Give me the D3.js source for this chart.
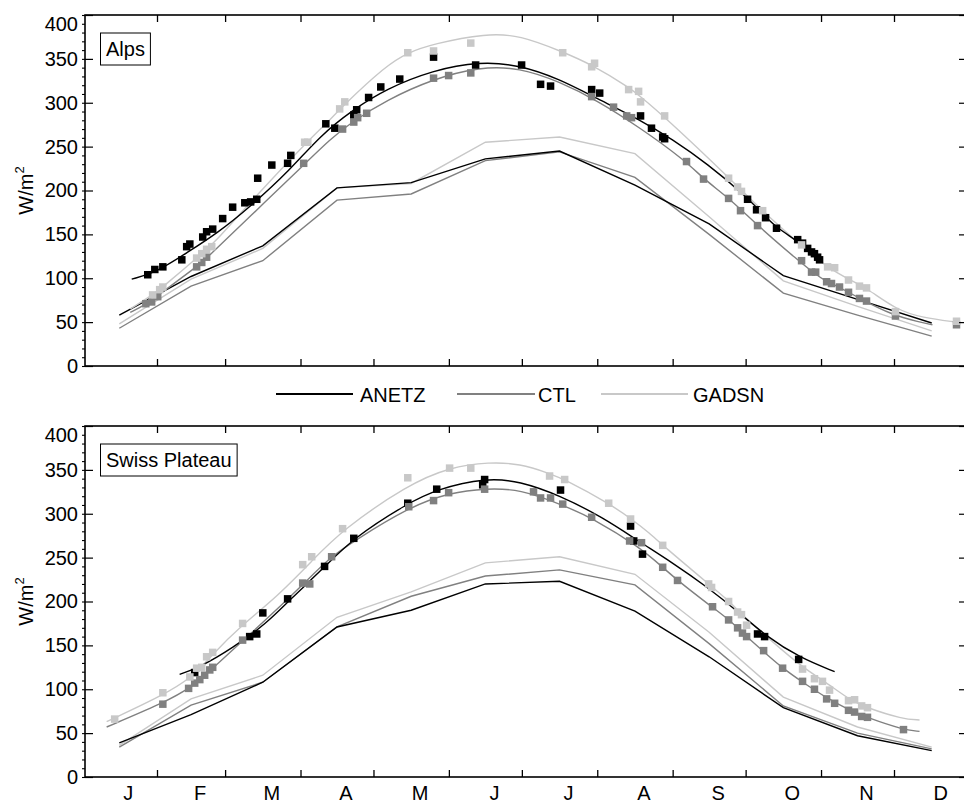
<!DOCTYPE html>
<html><head><meta charset="utf-8">
<script src="https://cdn.jsdelivr.net/npm/d3@7"></script>
<style>
html,body{margin:0;padding:0;background:#fff;}
svg{display:block;font-family:"Liberation Sans",Arial,Helvetica,sans-serif;}
</style></head><body>
<svg id="chart" width="964" height="808"></svg>
<script>
// ---------------- DATA ----------------
const months = ["J","F","M","A","M","J","J","A","S","O","N","D"];
const monthStartDays = [0,31,59,90,120,151,181,212,243,273,304,334];
const monthMidDays = [15.5,45,74.5,105,135.5,166,196.5,227.5,258,288.5,319,349.5];
const yTickValues = [0,50,100,150,200,250,300,350,400];
const seriesNames = ["ANETZ","CTL","GADSN"];
const panelTitles = ["Alps","Swiss Plateau"];

// Alps: fitted curves [day, W/m2]
const alpsFitANETZ = [[20.6,99],[30.9,107],[43.2,129],[55.6,151],[69.1,181],[85.6,223],[97.9,262],[111.5,292],[125.4,316],[144.3,337],[163.7,347],[180.1,343],[196.5,327],[211.7,305],[229.4,281],[243.0,258],[257.0,231],[273.4,193],[281.2,170],[285.7,158],[293.9,143],[299.3,131],[303.4,120]];
const alpsFitCTL = [[20.0,61],[26.4,70],[32.1,82],[47.3,113],[51.4,123],[69.1,170],[91.3,229],[102.0,258],[111.5,279],[125.4,303],[144.3,327],[163.7,341],[180.1,340],[196.5,324],[211.7,303],[229.4,272],[248.7,233],[255.7,213],[266.4,191],[277.9,160],[295.2,119],[300.5,107],[306.3,96],[311.6,90],[319.8,77],[333.4,58],[344.5,50],[349.8,47]];
const alpsFitGADSN = [[20.0,65],[29.2,81],[33.4,90],[49.8,129],[53.5,137],[72.4,196],[92.5,255],[102.0,280],[106.1,293],[125.4,343],[134.1,357],[144.3,367],[166.5,379],[180.1,377],[197.8,358],[210.1,343],[225.3,317],[229.4,308],[239.7,284],[266.4,214],[280.0,176],[296.4,136],[306.3,113],[315.7,98],[322.7,89],[335.0,64],[345.7,55],[359.7,50]];
// Alps: monthly means (mid-month)
const alpsMonANETZ = [58,102,137,203,209,236,245,206,162,103,76,49];
const alpsMonCTL   = [43,91,120,189,196,234,244,215,150,83,58,34];
const alpsMonGADSN = [48,99,134,203,208,255,261,242,170,97,68,40];
// Alps: individual values [day, W/m2]
const alpsPtsANETZ = [[27.2,104],[30.1,110],[33.4,113],[41.2,121],[43.2,136],[44.5,139],[49.8,147],[51.4,153],[53.9,156],[58.0,168],[62.1,181],[67.1,186],[69.5,187],[72.0,190],[72.4,214],[78.2,229],[84.7,231],[86.0,240],[100.4,276],[104.1,271],[111.9,286],[113.1,292],[118.0,306],[123.0,318],[130.8,327],[144.7,352],[162.0,343],[180.9,343],[188.7,321],[192.8,319],[209.7,315],[213.0,311],[229.8,285],[234.3,271],[238.9,261],[239.7,259],[273.8,190],[277.5,178],[281.2,169],[285.7,157],[294.4,144],[296.4,140],[298.5,134],[300.1,130],[301.3,128],[302.6,124],[303.4,121]];
const alpsPtsCTL = [[26.4,71],[28.8,73],[31.3,79],[47.3,113],[49.4,118],[51.4,124],[91.3,231],[107.3,270],[111.9,278],[113.5,283],[117.2,288],[144.7,328],[150.9,331],[160.0,334],[209.7,307],[218.7,295],[224.1,285],[226.1,283],[248.7,233],[255.7,213],[266.0,191],[270.9,177],[277.9,160],[296.0,120],[300.1,107],[301.8,107],[306.3,96],[308.3,94],[311.6,90],[315.3,84],[319.8,77],[322.7,74],[334.6,57],[359.7,47]];
const alpsPtsGADSN = [[29.2,81],[32.1,87],[33.4,90],[47.3,123],[49.4,128],[51.4,133],[53.5,136],[91.7,255],[93.0,255],[106.1,293],[108.2,301],[134.1,357],[144.7,359],[160.0,368],[197.8,357],[209.7,341],[210.9,345],[224.9,315],[229.0,313],[229.8,301],[239.7,285],[266.0,214],[269.7,204],[271.3,199],[280.0,177],[296.0,138],[306.7,113],[309.6,112],[315.3,98],[319.8,91],[322.7,89],[334.6,62],[359.7,51]];

// Swiss Plateau: fitted curves
const swissFitANETZ = [[40.3,117],[48.6,125],[62.1,147],[76.1,175],[85.6,202],[99.9,239],[111.5,272],[134.1,312],[146.0,328],[166.5,341],[180.1,337],[196.5,321],[214.2,296],[229.4,268],[243.0,244],[257.0,217],[270.5,187],[281.6,160],[295.2,136],[309.6,120]];
const swissFitCTL = [[10.3,57],[33.4,84],[45.7,103],[53.9,124],[66.2,155],[78.0,185],[90.9,219],[102.0,250],[111.5,268],[134.9,308],[151.3,324],[166.5,329],[180.1,328],[197.8,310],[210.1,295],[229.4,262],[238.9,239],[245.0,224],[259.0,194],[266.4,179],[273.4,160],[280.8,142],[288.2,124],[296.4,108],[306.3,90],[315.7,76],[322.7,68],[337.5,54],[344.5,52]];
const swissFitGADSN = [[10.3,63],[33.4,93],[45.7,114],[53.9,140],[65.0,171],[80.2,205],[95.0,247],[106.9,281],[134.1,333],[151.3,353],[167.8,359],[180.1,357],[192.4,346],[198.6,339],[216.7,312],[226.1,294],[233.5,278],[238.9,264],[258.2,219],[266.4,200],[270.5,188],[273.4,180],[296.4,124],[304.6,111],[315.7,88],[322.7,79],[337.5,66],[344.5,65]];
// Swiss Plateau: monthly means
const swissMonANETZ = [39,71,108,171,190,220,223,189,137,79,47,30];
const swissMonCTL   = [34,82,108,171,206,229,236,219,152,81,50,32];
const swissMonGADSN = [36,89,116,182,211,244,251,231,165,91,57,34];
// Swiss Plateau: individual values
const swissPtsANETZ = [[46.5,119],[69.1,160],[72.0,163],[74.5,187],[84.7,203],[99.9,240],[111.9,272],[134.1,312],[146.0,328],[164.9,333],[165.7,339],[196.9,327],[225.7,286],[227.0,269],[230.6,254],[277.9,163],[280.8,160],[294.8,134]];
const swissPtsCTL = [[33.4,83],[44.0,101],[46.5,107],[48.6,111],[50.6,116],[52.7,122],[53.9,125],[66.2,156],[90.9,221],[93.8,220],[102.8,251],[134.5,308],[144.7,315],[150.9,324],[165.7,328],[185.8,325],[188.7,318],[192.8,318],[197.8,311],[209.7,296],[225.3,269],[230.2,267],[238.9,239],[245.0,224],[259.4,194],[266.0,179],[269.7,170],[271.7,164],[273.4,160],[280.4,144],[288.2,124],[296.4,109],[301.3,100],[306.3,89],[309.6,84],[315.3,76],[317.8,74],[320.7,69],[323.1,68],[337.9,54]];
const swissPtsGADSN = [[13.6,66],[33.4,96],[44.5,114],[47.3,124],[49.4,125],[51.4,137],[53.9,142],[66.2,175],[90.9,242],[94.6,251],[107.3,283],[134.1,341],[151.3,352],[160.0,352],[192.4,343],[198.6,339],[216.7,312],[225.7,294],[238.9,264],[257.8,220],[259.0,216],[266.0,200],[269.7,188],[271.3,185],[273.4,173],[296.4,123],[301.3,112],[304.6,109],[307.5,99],[315.3,87],[317.8,88],[320.7,81],[323.1,79]];

// ---------------- LAYOUT / STYLE ----------------
const colors = ["#000000","#808080","#c8c8c8"];
const L = 85, R = 966;
const panels = [
  {title: panelTitles[0], top: 15, bottom: 366,
   fits: [alpsFitANETZ, alpsFitCTL, alpsFitGADSN],
   mons: [alpsMonANETZ, alpsMonCTL, alpsMonGADSN],
   pts:  [alpsPtsANETZ, alpsPtsCTL, alpsPtsGADSN]},
  {title: panelTitles[1], top: 426, bottom: 777,
   fits: [swissFitANETZ, swissFitCTL, swissFitGADSN],
   mons: [swissMonANETZ, swissMonCTL, swissMonGADSN],
   pts:  [swissPtsANETZ, swissPtsCTL, swissPtsGADSN]}
];
const FONT = '"Liberation Sans",Arial,Helvetica,sans-serif';
const svg = d3.select("#chart");
const x = d3.scaleLinear().domain([1.4, 363.6]).range([L, R]);

function styleAxis(g, sw){
  g.attr("font-family", FONT).attr("font-size", 20);
  g.select(".domain").remove();
  g.selectAll(".tick line").attr("stroke","#000").attr("stroke-width", sw);
  g.selectAll(".tick text").attr("fill","#000");
}

panels.forEach((p, pi) => {
  const y = d3.scaleLinear().domain([0, 400]).range([p.bottom, p.top]);
  const g = svg.append("g");

  const fitLine = d3.line().curve(d3.curveBasis).x(d => x(d[0])).y(d => y(d[1]));
  const monLine = d3.line().x((d, i) => x(monthMidDays[i])).y(d => y(d));

  [2,1,0].forEach(s => {
    g.append("path").datum(p.mons[s]).attr("d", monLine)
      .attr("fill","none").attr("stroke", colors[s]).attr("stroke-width",1.4);
  });
  [2,1,0].forEach(s => {
    g.append("path").datum(p.fits[s]).attr("d", fitLine)
      .attr("fill","none").attr("stroke", colors[s]).attr("stroke-width",1.4);
  });
  const sz = 7.5;
  [0,1,2].forEach(s => {
    g.append("g").selectAll("rect").data(p.pts[s]).join("rect")
      .attr("x", d => x(d[0]) - sz/2).attr("y", d => y(d[1]) - sz/2)
      .attr("width", sz).attr("height", sz).attr("fill", colors[s]);
  });

  g.append("rect").attr("x", L).attr("y", p.top).attr("width", R - L).attr("height", p.bottom - p.top)
    .attr("fill","none").attr("stroke","#000").attr("stroke-width",1.6);

  const yl = g.append("g").attr("transform", `translate(${L},0)`)
    .call(d3.axisLeft(y).tickValues(yTickValues).tickSize(0).tickPadding(7));
  styleAxis(yl, 1.2);
  yl.selectAll(".tick text").filter(d => d === 400).attr("dy", "0.75em");
  const yi = g.append("g").attr("transform", `translate(${L},0)`)
    .call(d3.axisRight(y).tickValues(yTickValues).tickSize(8).tickFormat(""));
  styleAxis(yi, 1.2);
  const ym = g.append("g").attr("transform", `translate(${L},0)`)
    .call(d3.axisLeft(y).tickValues(d3.range(0, 401, 10)).tickSize(3).tickFormat(""));
  styleAxis(ym, 1.1);
  const yr = g.append("g").attr("transform", `translate(${R},0)`)
    .call(d3.axisLeft(y).tickValues(yTickValues).tickSize(7).tickFormat(""));
  styleAxis(yr, 1.2);
  const xb = g.append("g").attr("transform", `translate(0,${p.bottom})`)
    .call(d3.axisTop(x).tickValues(monthStartDays.slice(1)).tickSize(7).tickFormat(""));
  styleAxis(xb, 1.3);
  const xt = g.append("g").attr("transform", `translate(0,${p.top})`)
    .call(d3.axisBottom(x).tickValues(monthStartDays.slice(1)).tickSize(7).tickFormat(""));
  styleAxis(xt, 1.3);

  const yt = g.append("text").attr("transform", `translate(33,${(p.top + p.bottom)/2}) rotate(-90)`)
    .attr("text-anchor","middle").attr("font-family", FONT).attr("font-size", 20).attr("fill","#000");
  yt.append("tspan").text("W/m");
  yt.append("tspan").text("2").attr("font-size", 13).attr("dy", -9);

  const tx = L + 21, tyMid = p.top + 34;
  const box = g.append("rect").attr("x", tx - 5.5).attr("y", tyMid - 16).attr("height", 32)
    .attr("fill","#fff").attr("stroke","#000").attr("stroke-width",1);
  const t = g.append("text").attr("x", tx).attr("y", tyMid + 7)
    .attr("font-family", FONT).attr("font-size", 20).attr("fill","#000").text(p.title);
  box.attr("width", t.node().getComputedTextLength() + 11);

  if (pi === panels.length - 1) {
    const xl = g.append("g").attr("transform", `translate(0,${p.bottom})`)
      .call(d3.axisBottom(x).tickValues(monthMidDays.map(d => d + 3.5)).tickSize(0).tickPadding(9)
        .tickFormat((d, i) => months[i]));
    styleAxis(xl, 1);
  }
});

const legendItems = [
  {lx0: 276, lx1: 353, tx: 360},
  {lx0: 457, lx1: 535, tx: 538},
  {lx0: 601, lx1: 688, tx: 693}
];
const lg = svg.append("g");
seriesNames.forEach((name, i) => {
  const it = legendItems[i];
  lg.append("line").attr("x1", it.lx0).attr("x2", it.lx1).attr("y1", 394).attr("y2", 394)
    .attr("stroke", colors[i]).attr("stroke-width", 2);
  lg.append("text").attr("x", it.tx).attr("y", 402).attr("font-family", FONT)
    .attr("font-size", 20).attr("fill","#000").text(name);
});
</script>
</body></html>
